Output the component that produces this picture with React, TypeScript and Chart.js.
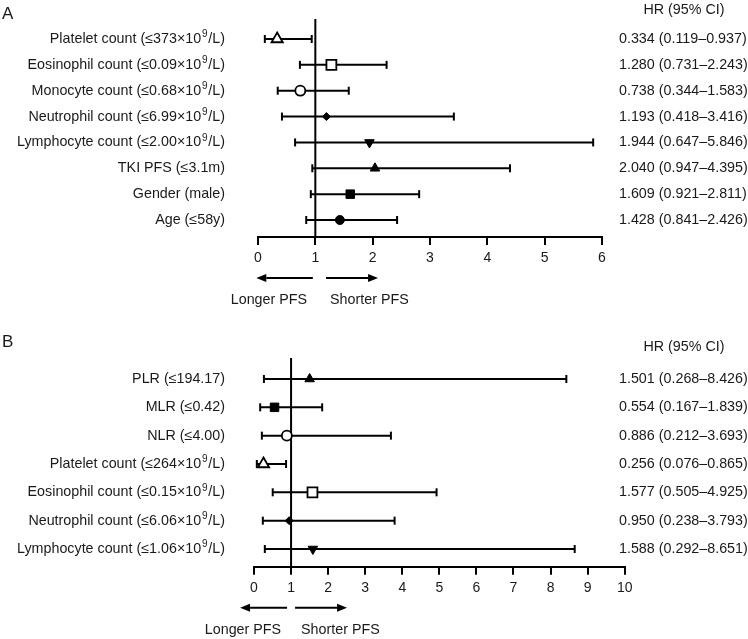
import React, { useEffect, useRef } from "react";
import { Chart, registerables } from "chart.js";

Chart.register(...registerables);

const FONT = '"Liberation Sans", Arial, Helvetica, sans-serif';
const INK = "#000";
const TEXT = "#1a1a1a";
const FS = 14.3;

// ---------- Panel A data ----------
const labelsA = [
  "Platelet count (≤373×10^9/L)",
  "Eosinophil count (≤0.09×10^9/L)",
  "Monocyte count (≤0.68×10^9/L)",
  "Neutrophil count (≤6.99×10^9/L)",
  "Lymphocyte count (≤2.00×10^9/L)",
  "TKI PFS (≤3.1m)",
  "Gender (male)",
  "Age (≤58y)",
];
const hrA = [0.334, 1.28, 0.738, 1.193, 1.944, 2.04, 1.609, 1.428];
const lowerA = [0.119, 0.731, 0.344, 0.418, 0.647, 0.947, 0.921, 0.841];
const upperA = [0.937, 2.243, 1.583, 3.416, 5.846, 4.395, 2.811, 2.426];
const markersA = ["openTriangle", "openSquare", "openCircle", "diamond", "invTriangle", "triangle", "square", "circle"];
const ticksA = [0, 1, 2, 3, 4, 5, 6];

// ---------- Panel B data ----------
const labelsB = [
  "PLR (≤194.17)",
  "MLR (≤0.42)",
  "NLR (≤4.00)",
  "Platelet count (≤264×10^9/L)",
  "Eosinophil count (≤0.15×10^9/L)",
  "Neutrophil count (≤6.06×10^9/L)",
  "Lymphocyte count (≤1.06×10^9/L)",
];
const hrB = [1.501, 0.554, 0.886, 0.256, 1.577, 0.95, 1.588];
const lowerB = [0.268, 0.167, 0.212, 0.076, 0.505, 0.238, 0.292];
const upperB = [8.426, 1.839, 3.693, 0.865, 4.925, 3.793, 8.651];
const markersB = ["triangle", "square", "openCircle", "openTriangle", "openSquare", "diamond", "invTriangle"];
const ticksB = [0, 1, 2, 3, 4, 5, 6, 7, 8, 9, 10];

const HEADER = "HR (95% CI)";
const LONGER = "Longer PFS";
const SHORTER = "Shorter PFS";

type Marker = { style: string; radius: number; fill: string; rotation: number; border: number };
const MARKERS: Record<string, Marker> = {
  openTriangle: { style: "triangle", radius: 6.5, fill: "#fff", rotation: 0, border: 1.8 },
  openSquare: { style: "rect", radius: 7, fill: "#fff", rotation: 0, border: 1.8 },
  openCircle: { style: "circle", radius: 5, fill: "#fff", rotation: 0, border: 1.8 },
  diamond: { style: "rectRot", radius: 4, fill: "#000", rotation: 0, border: 1 },
  invTriangle: { style: "triangle", radius: 5.5, fill: "#000", rotation: 180, border: 1 },
  triangle: { style: "triangle", radius: 5.5, fill: "#000", rotation: 0, border: 1 },
  square: { style: "rect", radius: 6, fill: "#000", rotation: 0, border: 1 },
  circle: { style: "circle", radius: 4.5, fill: "#000", rotation: 0, border: 1 },
};

type Panel = {
  letter: string;
  labels: string[];
  hr: number[];
  lower: number[];
  upper: number[];
  markers: string[];
  ticks: number[];
  height: number;
  padding: { left: number; right: number; top: number; bottom: number };
  yMin: number;
  yMax: number;
  letterY: number;
  headerY: number;
  labelRight: number;
  valueLeft: number;
  headerX: number;
  arrowL: [number, number];
  arrowR: [number, number];
  longerEnd: number;
  shorterStart: number;
};

const panelA: Panel = {
  letter: "A",
  labels: labelsA,
  hr: hrA,
  lower: lowerA,
  upper: upperA,
  markers: markersA,
  ticks: ticksA,
  height: 318,
  padding: { left: 258, right: 146, top: 19, bottom: 46.2 },
  yMin: -0.773,
  yMax: 7.657,
  letterY: 14,
  headerY: 10,
  labelRight: 225,
  valueLeft: 619,
  headerX: 684,
  arrowL: [-59, -2.5],
  arrowR: [10.7, 62.7],
  longerEnd: -8.3,
  shorterStart: 14.7,
};

const panelB: Panel = {
  letter: "B",
  labels: labelsB,
  hr: hrB,
  lower: lowerB,
  upper: upperB,
  markers: markersB,
  ticks: ticksB,
  height: 321,
  padding: { left: 254, right: 123.3, top: 40, bottom: 37.5 },
  yMin: -0.741,
  yMax: 6.625,
  letterY: 24.5,
  headerY: 29.5,
  labelRight: 225,
  valueLeft: 619,
  headerX: 684,
  arrowL: [-51, -4],
  arrowR: [4, 56],
  longerEnd: -10,
  shorterStart: 10,
};

function drawRich(ctx: CanvasRenderingContext2D, text: string, xRight: number, y: number, size: number) {
  const segs: { t: string; sup: boolean }[] = [];
  let buf = "";
  for (let i = 0; i < text.length; i++) {
    if (text[i] === "^" && i + 1 < text.length) {
      if (buf) segs.push({ t: buf, sup: false });
      buf = "";
      segs.push({ t: text[i + 1], sup: true });
      i++;
    } else buf += text[i];
  }
  if (buf) segs.push({ t: buf, sup: false });
  const normal = `${size}px ${FONT}`;
  const small = `${(size * 0.7).toFixed(1)}px ${FONT}`;
  const gap = 0.8;
  let total = 0;
  for (const s of segs) {
    ctx.font = s.sup ? small : normal;
    total += ctx.measureText(s.t).width + (s.sup ? gap * 2 : 0);
  }
  let x = xRight - total;
  ctx.textAlign = "left";
  ctx.textBaseline = "middle";
  for (const s of segs) {
    ctx.font = s.sup ? small : normal;
    if (s.sup) x += gap;
    ctx.fillText(s.t, x, s.sup ? y - size * 0.3 : y);
    x += ctx.measureText(s.t).width + (s.sup ? gap : 0);
  }
}

function drawArrow(ctx: CanvasRenderingContext2D, tail: number, tip: number, y: number) {
  const dir = tip > tail ? 1 : -1;
  const head = 10;
  ctx.beginPath();
  ctx.moveTo(tail, y);
  ctx.lineTo(tip - dir * head, y);
  ctx.lineWidth = 2;
  ctx.strokeStyle = INK;
  ctx.stroke();
  ctx.beginPath();
  ctx.moveTo(tip, y);
  ctx.lineTo(tip - dir * head, y - 4);
  ctx.lineTo(tip - dir * head, y + 4);
  ctx.closePath();
  ctx.fillStyle = INK;
  ctx.fill();
}

function makeDecor(p: Panel) {
  return {
    id: "forestDecor",
    afterDraw(chart: any) {
      const { ctx, chartArea } = chart;
      const x = chart.scales.x;
      const y = chart.scales.y;
      ctx.save();
      ctx.fillStyle = TEXT;
      // Panel letter
      ctx.font = `17px ${FONT}`;
      ctx.textAlign = "left";
      ctx.textBaseline = "middle";
      ctx.fillText(p.letter, 2, p.letterY);
      // Header
      ctx.font = `${FS}px ${FONT}`;
      ctx.textAlign = "center";
      ctx.fillText(HEADER, p.headerX, p.headerY);
      // Rows
      p.labels.forEach((lab, i) => {
        const py = y.getPixelForValue(i);
        ctx.fillStyle = TEXT;
        drawRich(ctx, lab, p.labelRight, py, FS);
        ctx.font = `${FS}px ${FONT}`;
        ctx.textAlign = "left";
        ctx.textBaseline = "middle";
        const txt = `${p.hr[i].toFixed(3)} (${p.lower[i].toFixed(3)}–${p.upper[i].toFixed(3)})`;
        ctx.fillText(txt, p.valueLeft, py);
      });
      // Arrows
      const ref = x.getPixelForValue(1);
      const ay = chartArea.bottom + 41;
      drawArrow(ctx, ref + p.arrowL[1], ref + p.arrowL[0], ay);
      drawArrow(ctx, ref + p.arrowR[0], ref + p.arrowR[1], ay);
      ctx.fillStyle = TEXT;
      ctx.font = `${FS}px ${FONT}`;
      ctx.textBaseline = "middle";
      ctx.textAlign = "right";
      ctx.fillText(LONGER, ref + p.longerEnd, chartArea.bottom + 63);
      ctx.textAlign = "left";
      ctx.fillText(SHORTER, ref + p.shorterStart, chartArea.bottom + 63);
      ctx.restore();
    },
  };
}

function PanelChart({ panel }: { panel: Panel }) {
  const ref = useRef<HTMLCanvasElement>(null);
  useEffect(() => {
    const p = panel;
    const rows = p.labels.map((_, i) => i);
    const mk = rows.map((i) => MARKERS[p.markers[i]]);
    const datasets: any[] = [
      {
        label: "HR",
        data: rows.map((i) => ({ x: p.hr[i], y: i })),
        pointStyle: mk.map((m) => m.style),
        pointRadius: mk.map((m) => m.radius),
        pointBackgroundColor: mk.map((m) => m.fill),
        pointBorderColor: INK,
        pointBorderWidth: mk.map((m) => m.border),
        pointRotation: mk.map((m) => m.rotation),
        showLine: false,
        order: 0,
        clip: false,
      },
      ...rows.map((i) => ({
        label: "CI " + i,
        data: [
          { x: p.lower[i], y: i },
          { x: p.upper[i], y: i },
        ],
        showLine: true,
        borderColor: INK,
        borderWidth: 2,
        pointStyle: "line",
        pointRotation: 90,
        pointRadius: 4,
        pointBorderWidth: 2,
        pointBorderColor: INK,
        order: 1,
        clip: false,
      })),
      {
        label: "ref",
        data: [
          { x: 1, y: p.yMin },
          { x: 1, y: p.yMax },
        ],
        showLine: true,
        borderColor: INK,
        borderWidth: 2,
        pointRadius: 0,
        order: 2,
      },
    ];
    const chart = new Chart(ref.current as HTMLCanvasElement, {
      type: "scatter",
      data: { datasets },
      options: {
        animation: false,
        responsive: false,
        events: [],
        layout: { padding: p.padding },
        plugins: { legend: { display: false }, tooltip: { enabled: false }, title: { display: false } },
        scales: {
          x: {
            type: "linear",
            min: p.ticks[0],
            max: p.ticks[p.ticks.length - 1],
            afterBuildTicks: (s: any) => {
              s.ticks = p.ticks.map((v) => ({ value: v }));
            },
            ticks: {
              font: { family: FONT, size: 14 },
              color: TEXT,
              padding: 5,
              autoSkip: false,
              maxRotation: 0,
            },
            grid: { drawOnChartArea: false, drawTicks: true, tickLength: 8, color: INK, lineWidth: 2 },
            border: { display: true, color: INK, width: 2 },
          },
          y: { type: "linear", display: false, reverse: true, min: p.yMin, max: p.yMax },
        },
      } as any,
      plugins: [makeDecor(p)],
    });
    return () => chart.destroy();
  }, [panel]);
  return (
    <canvas
      ref={ref}
      width={748}
      height={panel.height}
      style={{ display: "block", width: 748, height: panel.height }}
    />
  );
}

export default function App() {
  return (
    <div style={{ position: "fixed", left: 0, top: 0, width: 748, height: 639, background: "#fff" }}>
      <PanelChart panel={panelA} />
      <PanelChart panel={panelB} />
    </div>
  );
}
